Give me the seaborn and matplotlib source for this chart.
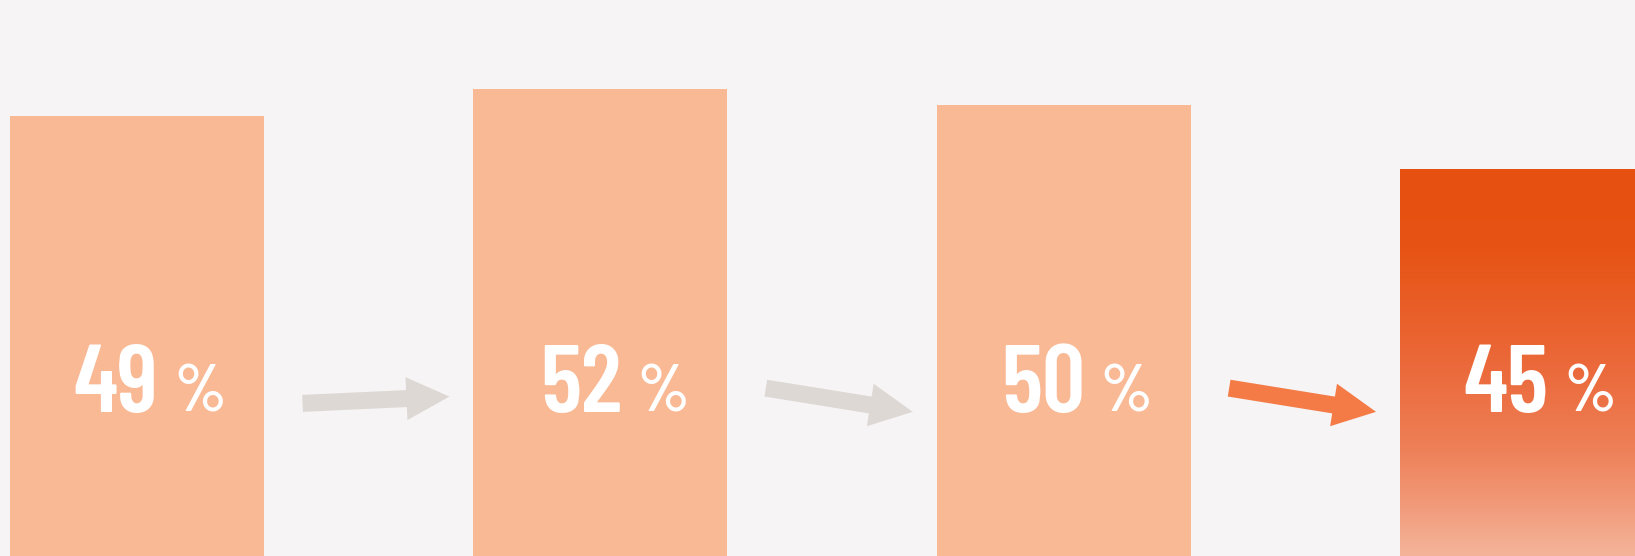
import matplotlib
matplotlib.use("Agg")
import matplotlib.pyplot as plt
import matplotlib.transforms as mtransforms
from matplotlib.colors import LinearSegmentedColormap
from matplotlib.patches import FancyArrow
import numpy as np
import pandas as pd
import seaborn as sns

# Data
periods = ['P1', 'P2', 'P3', 'P4']
shares = [49, 52, 50, 45]               # printed labels (%)
bar_heights = [49, 52, 50.2, 43.2]      # drawn heights
highlight = 3                           # last bar is highlighted

bg = '#F6F4F5'
bar_color = '#F9B995'
arrow_grey = '#DED8D5'
arrow_orange = '#F47B45'
grad_stops = [(0.0, '#E65011'), (0.2, '#E75314'), (0.5, '#EB693A'),
              (0.7, '#EE7E55'), (0.85, '#F19978'), (1.0, '#F5B89E')]
label_font = ['Barlow Condensed', 'DejaVu Sans']

df = pd.DataFrame({'period': periods, 'height': bar_heights})

sns.set_theme(style='white')
fig = plt.figure(figsize=(16.35, 5.56), dpi=100, facecolor=bg)
ax = fig.add_axes([0, 0, 1, 1])
ax.set_facecolor(bg)

colors = [bar_color] * len(periods)
sns.barplot(data=df, x='period', y='height', hue='period', palette=colors,
            legend=False, width=0.548, saturation=1, linewidth=0, ax=ax)
ax.set_xlim(-0.296, 3.233)
ax.set_ylim(0.82, 61.7)
ax.axis('off')

# Gradient fill for the highlighted bar
patch = ax.patches[highlight]
x0, y0 = patch.get_x(), patch.get_y()
w, h = patch.get_width(), patch.get_height()
cmap = LinearSegmentedColormap.from_list('hl', grad_stops)
grad = np.linspace(0, 1, 256).reshape(-1, 1)
img = ax.imshow(grad, cmap=cmap, aspect='auto', origin='upper',
                extent=[x0, x0 + w, y0, y0 + h], zorder=3)
img.set_clip_path(patch)
ax.set_xlim(-0.296, 3.233)
ax.set_ylim(0.82, 61.7)

# Labels inside the bars
trans = mtransforms.blended_transform_factory(ax.transData, ax.transAxes)
for i, v in enumerate(shares):
    ax.text(i + 0.046, 0.2595, f'{v}', transform=trans, ha='right', va='baseline',
            color='white', fontsize=69, fontweight='semibold', family=label_font, zorder=5)
    ax.text(i + 0.0795, 0.2595, '%', transform=trans, ha='left', va='baseline',
            color='white', fontsize=48, fontweight='semibold', family=label_font, zorder=5)

# Trend arrows between bars (display pixels)
fig.canvas.draw()
mid_y = ax.transAxes.transform((0, 0.2806))[1]
for i in range(len(shares) - 1):
    xa = ax.transData.transform((i + 0.357, 0))[0]
    xb = ax.transData.transform((i + 0.674, 0))[0]
    rise = 6.8 if shares[i + 1] > shares[i] else -23.7
    color = arrow_orange if i + 1 == highlight else arrow_grey
    arr = FancyArrow(xa, mid_y - rise / 2, xb - xa, rise, width=17,
                     head_width=43, head_length=43, length_includes_head=True,
                     color=color, linewidth=0, transform=mtransforms.IdentityTransform(),
                     zorder=4)
    ax.add_patch(arr)

fig.savefig('out.png', dpi=100, facecolor=bg)
